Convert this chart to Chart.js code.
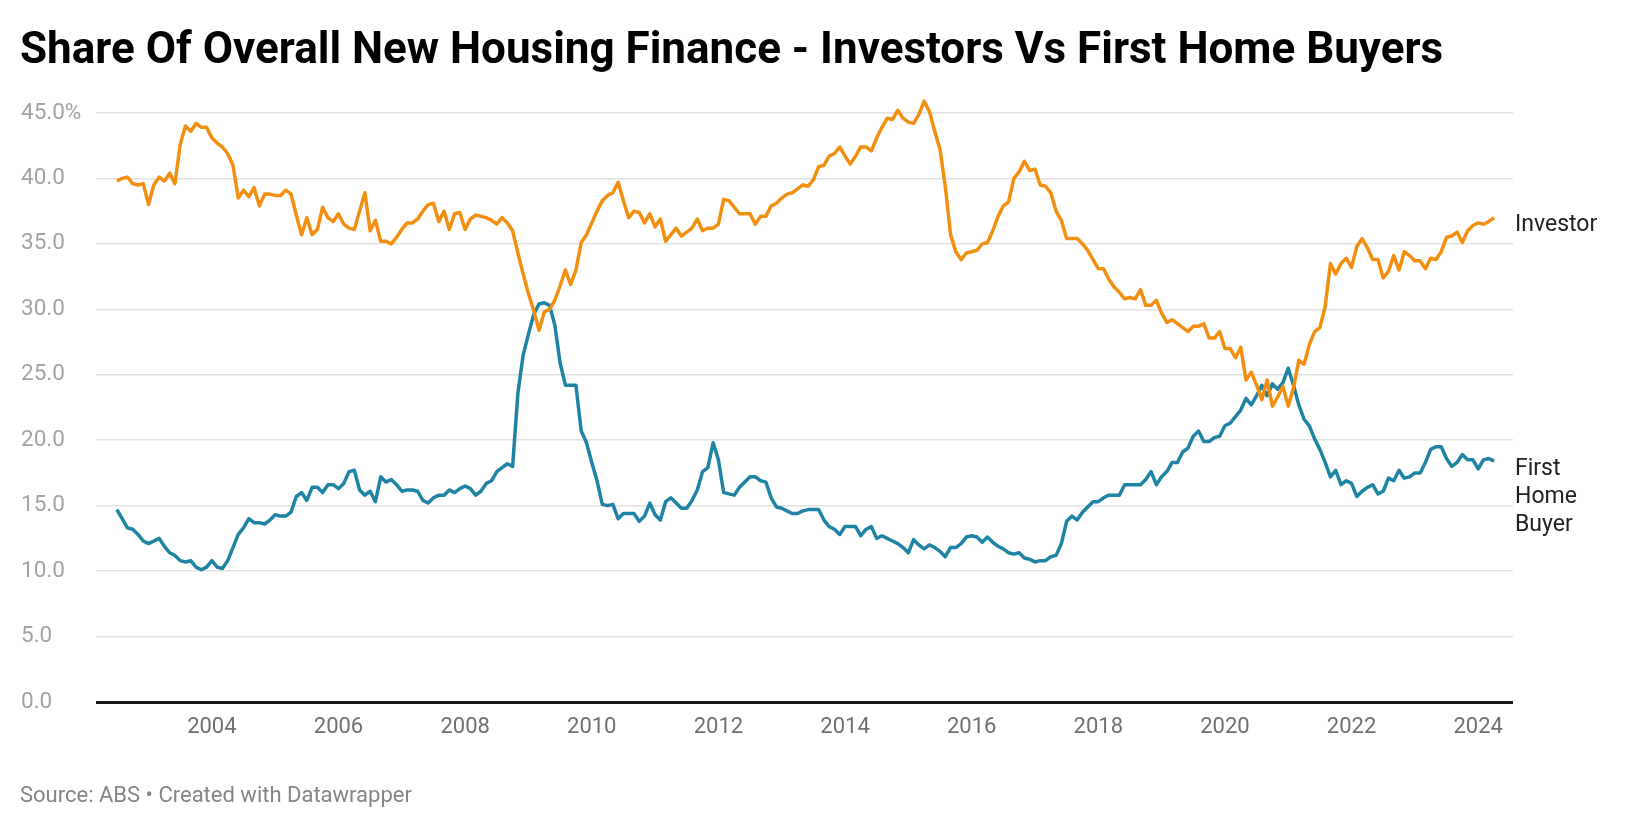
<!DOCTYPE html>
<html>
<head>
<meta charset="utf-8">
<script src="https://cdn.jsdelivr.net/npm/chart.js@4.4.1/dist/chart.umd.min.js"></script>
<style>
  html, body { margin: 0; padding: 0; background: #fff; }
  canvas { display: block; }
</style>
</head>
<body>
<canvas id="chart" width="1640" height="828"></canvas>
<script>
// monthly, Jul 2002 - Apr 2024
const startYear = 2002;
const startMonth = 7;

const investor = [
  39.8, 40.0, 40.1, 39.6, 39.5, 39.6, 38.0, 39.5, 40.1, 39.8, 40.4, 39.6, 42.6, 44.0, 43.6, 44.2, 43.9, 43.9, 43.1, 42.7,
  42.4, 41.9, 41.0, 38.5, 39.1, 38.6, 39.3, 37.9, 38.8, 38.8, 38.7, 38.7, 39.1, 38.8, 37.2, 35.7, 37.0, 35.7, 36.1, 37.8,
  37.0, 36.7, 37.3, 36.5, 36.2, 36.1, 37.5, 38.9, 36.0, 36.8, 35.2, 35.2, 35.0, 35.5, 36.1, 36.6, 36.6, 36.9, 37.5, 38.0,
  38.1, 36.7, 37.5, 36.1, 37.3, 37.4, 36.1, 36.9, 37.2, 37.1, 37.0, 36.8, 36.5, 37.0, 36.6, 36.0, 34.3, 32.7, 31.2, 29.9,
  28.4, 29.8, 30.0, 30.7, 31.8, 33.0, 31.9, 33.0, 35.1, 35.7, 36.6, 37.5, 38.3, 38.7, 38.9, 39.7, 38.3, 37.0, 37.5, 37.4,
  36.6, 37.3, 36.3, 36.9, 35.2, 35.7, 36.2, 35.6, 35.9, 36.2, 36.9, 36.0, 36.2, 36.2, 36.5, 38.4, 38.3, 37.8, 37.3, 37.3,
  37.3, 36.5, 37.1, 37.1, 37.9, 38.1, 38.5, 38.8, 38.9, 39.2, 39.5, 39.4, 39.9, 40.9, 41.0, 41.7, 41.9, 42.4, 41.7, 41.1,
  41.7, 42.4, 42.4, 42.1, 43.1, 43.9, 44.6, 44.5, 45.2, 44.6, 44.3, 44.2, 44.9, 45.9, 45.1, 43.6, 42.2, 39.4, 35.7, 34.4,
  33.8, 34.3, 34.4, 34.5, 35.0, 35.1, 36.0, 37.1, 37.9, 38.2, 40.0, 40.5, 41.3, 40.6, 40.7, 39.5, 39.4, 38.9, 37.5, 36.8,
  35.4, 35.4, 35.4, 35.0, 34.5, 33.8, 33.1, 33.1, 32.3, 31.7, 31.3, 30.8, 30.9, 30.8, 31.5, 30.3, 30.3, 30.7, 29.7, 29.0,
  29.2, 28.9, 28.6, 28.3, 28.7, 28.7, 28.9, 27.8, 27.8, 28.3, 27.0, 27.0, 26.3, 27.1, 24.6, 25.2, 24.2, 23.1, 24.6, 22.6,
  23.3, 24.1, 22.6, 24.0, 26.1, 25.8, 27.3, 28.3, 28.6, 30.2, 33.5, 32.7, 33.5, 33.9, 33.2, 34.8, 35.4, 34.7, 33.8, 33.8,
  32.4, 32.9, 34.1, 33.0, 34.4, 34.1, 33.7, 33.7, 33.1, 33.9, 33.8, 34.4, 35.5, 35.6, 35.9, 35.1, 36.0, 36.4, 36.6, 36.5,
  36.7, 37.0
];

const firstHomeBuyer = [
  14.7, 14.0, 13.3, 13.2, 12.8, 12.3, 12.1, 12.3, 12.5, 11.9, 11.4, 11.2, 10.8, 10.7, 10.8, 10.3, 10.1, 10.3, 10.8, 10.3,
  10.2, 10.8, 11.8, 12.8, 13.3, 14.0, 13.7, 13.7, 13.6, 13.9, 14.3, 14.2, 14.2, 14.5, 15.7, 16.0, 15.4, 16.4, 16.4, 16.0,
  16.6, 16.6, 16.3, 16.7, 17.6, 17.7, 16.2, 15.8, 16.1, 15.3, 17.2, 16.8, 17.0, 16.6, 16.1, 16.2, 16.2, 16.1, 15.4, 15.2,
  15.6, 15.8, 15.8, 16.2, 16.0, 16.3, 16.5, 16.3, 15.8, 16.1, 16.7, 16.9, 17.6, 17.9, 18.2, 18.0, 23.6, 26.5, 28.1, 29.6,
  30.4, 30.5, 30.3, 28.8, 25.9, 24.2, 24.2, 24.2, 20.7, 19.8, 18.3, 16.9, 15.1, 15.0, 15.1, 14.0, 14.4, 14.4, 14.4, 13.8,
  14.2, 15.2, 14.3, 13.9, 15.3, 15.6, 15.2, 14.8, 14.8, 15.4, 16.2, 17.6, 17.9, 19.8, 18.5, 16.0, 15.9, 15.8, 16.4, 16.8,
  17.2, 17.2, 16.9, 16.8, 15.6, 14.9, 14.8, 14.6, 14.4, 14.4, 14.6, 14.7, 14.7, 14.7, 13.9, 13.4, 13.2, 12.8, 13.4, 13.4,
  13.4, 12.7, 13.2, 13.4, 12.5, 12.7, 12.5, 12.3, 12.1, 11.8, 11.4, 12.4, 12.0, 11.7, 12.0, 11.8, 11.5, 11.1, 11.8, 11.8,
  12.1, 12.6, 12.7, 12.6, 12.2, 12.6, 12.2, 11.9, 11.7, 11.4, 11.3, 11.4, 11.0, 10.9, 10.7, 10.8, 10.8, 11.1, 11.2, 12.1,
  13.8, 14.2, 13.9, 14.5, 14.9, 15.3, 15.3, 15.6, 15.8, 15.8, 15.8, 16.6, 16.6, 16.6, 16.6, 17.0, 17.6, 16.6, 17.2, 17.6,
  18.3, 18.3, 19.1, 19.4, 20.3, 20.7, 19.9, 19.9, 20.2, 20.3, 21.1, 21.3, 21.8, 22.3, 23.2, 22.7, 23.4, 24.2, 23.4, 24.3,
  23.9, 24.4, 25.5, 24.2, 22.7, 21.6, 21.1, 20.1, 19.3, 18.3, 17.2, 17.7, 16.6, 16.9, 16.7, 15.7, 16.1, 16.4, 16.6, 15.9,
  16.1, 17.1, 16.9, 17.7, 17.1, 17.2, 17.5, 17.5, 18.3, 19.3, 19.5, 19.5, 18.6, 18.0, 18.3, 18.9, 18.5, 18.5, 17.8, 18.5,
  18.6, 18.4
];

const xTicks = [2004, 2006, 2008, 2010, 2012, 2014, 2016, 2018, 2020, 2022, 2024];
const yTicks = [0, 5, 10, 15, 20, 25, 30, 35, 40, 45];

const title = 'Share Of Overall New Housing Finance - Investors Vs First Home Buyers';
const source = 'Source: ABS \u2022 Created with Datawrapper';

function monthX(i) {
  return startYear + (startMonth - 1 + i) / 12;
}
const toPoints = arr => arr.map((v, i) => ({ x: monthX(i), y: v }));

const textPlugin = {
  id: 'textPlugin',
  afterDraw(chart) {
    const ctx = chart.ctx;
    const yScale = chart.scales.y;
    const left = chart.chartArea.right + 2;
    ctx.save();

    ctx.fillStyle = '#000';
    ctx.font = 'bold 44px Roboto';
    ctx.textBaseline = 'alphabetic';
    ctx.fillText(title, 20, 63);

    ctx.fillStyle = '#858585';
    ctx.font = '22px Roboto';
    ctx.fillText(source, 20, 802);

    ctx.fillStyle = '#222';
    ctx.font = '23px Roboto';
    ctx.textBaseline = 'middle';
    chart.data.datasets.forEach(ds => {
      const last = ds.data[ds.data.length - 1].y;
      let py = yScale.getPixelForValue(last) + 8;
      ds.endLabel.forEach(line => {
        ctx.fillText(line, left, py);
        py += 28;
      });
    });
    ctx.restore();
  }
};

new Chart(document.getElementById('chart'), {
  type: 'line',
  data: {
    datasets: [
      {
        label: 'Investor',
        endLabel: ['Investor'],
        data: toPoints(investor),
        borderColor: '#f38f10',
        borderWidth: 3.5,
        pointRadius: 0,
        tension: 0,
        borderJoinStyle: 'round'
      },
      {
        label: 'First Home Buyer',
        endLabel: ['First', 'Home', 'Buyer'],
        data: toPoints(firstHomeBuyer),
        borderColor: '#1f83a3',
        borderWidth: 3.5,
        pointRadius: 0,
        tension: 0,
        borderJoinStyle: 'round'
      }
    ]
  },
  options: {
    responsive: false,
    devicePixelRatio: 1,
    animation: false,
    layout: { padding: { left: 21, right: 127, top: 92, bottom: 0 } },
    plugins: {
      legend: { display: false },
      tooltip: { enabled: false }
    },
    scales: {
      x: {
        type: 'linear',
        min: 2002.17,
        max: 2024.55,
        afterBuildTicks: scale => { scale.ticks = xTicks.map(v => ({ value: v })); },
        afterFit: scale => { scale.height = 126; },
        grid: { display: false, drawTicks: false },
        border: { display: false },
        ticks: {
          padding: 12,
          color: '#707070',
          font: { family: 'Roboto', size: 22 },
          maxRotation: 0,
          callback: v => String(v)
        }
      },
      y: {
        min: 0,
        max: 46.6,
        afterBuildTicks: scale => { scale.ticks = yTicks.map(v => ({ value: v })); },
        afterFit: scale => { scale.width = 75; },
        border: { display: false },
        grid: {
          drawTicks: false,
          color: c => c.tick.value === 0 ? '#1a1a1a' : '#e2e2e2',
          lineWidth: c => c.tick.value === 0 ? 3 : 1.5
        },
        ticks: {
          crossAlign: 'far',
          padding: 0,
          color: '#a3a3a3',
          font: { family: 'Roboto', size: 22.5 },
          callback: v => v === 45 ? v.toFixed(1) + '%' : v.toFixed(1)
        }
      }
    }
  },
  plugins: [textPlugin]
});
</script>
</body>
</html>
